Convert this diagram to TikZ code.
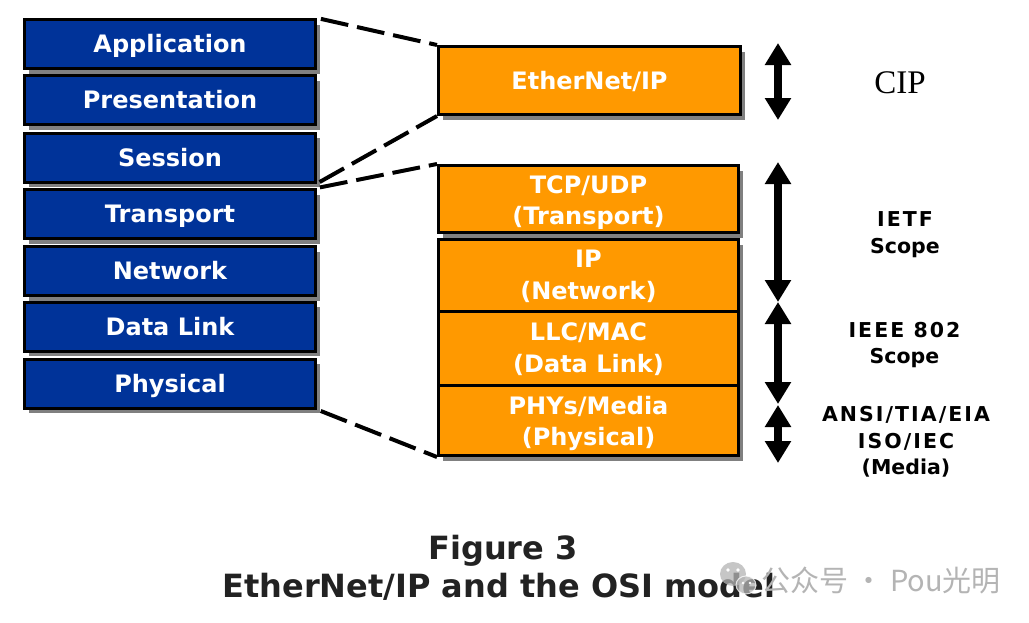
\documentclass[tikz,border=0pt]{standalone}
\usepackage{fontspec}
\usetikzlibrary{arrows.meta,shadows}
\newfontfamily\dvs{DejaVu Sans}
\newfontfamily\dvscaps{DejaVu Sans}[LetterSpace=10]
\newfontfamily\lserif{Liberation Serif}
\newfontfamily\cjk{Noto Sans CJK SC}
\newcommand\liftline[1]{\rule{0pt}{#1}}
\definecolor{osiblue}{RGB}{0,51,153}
\definecolor{ethorange}{RGB}{255,153,0}
\definecolor{shadowgray}{RGB}{128,128,128}
\definecolor{wmgray}{RGB}{180,180,180}
\definecolor{titlegray}{RGB}{34,34,34}
\begin{document}
\begin{tikzpicture}[x=1pt,y=-1pt,
  boxshadow/.style={drop shadow={shadow xshift=4pt,shadow yshift=-5pt,fill=shadowgray,opacity=1}},
  osibox/.style={draw=black,line width=3pt,fill=osiblue,minimum width=291pt,minimum height=49pt,
    inner sep=0pt,text=white,font=\dvs\bfseries\fontsize{24}{29}\selectfont,
    text height=17.5pt,text depth=0pt,boxshadow},
  ethbox/.style={draw=black,line width=3pt,fill=ethorange,minimum width=300pt,inner sep=0pt,
    text=white,align=center,font=\dvs\bfseries\fontsize{24}{31.5}\selectfont,boxshadow},
  dashlink/.style={line width=4pt,dash pattern=on 28pt off 9pt},
  dblarrow/.style={line width=7.5pt,{Triangle[width=25pt,length=22pt]}-{Triangle[width=25pt,length=22pt]}},
  scopelbl/.style={align=center,inner sep=0pt,text=black,font=\dvs\bfseries\fontsize{20.5}{27}\selectfont},
  titletext/.style={inner sep=0pt,text=titlegray,font=\dvs\bfseries\fontsize{32}{38}\selectfont,
    text height=23.3pt,text depth=0pt}
]
\useasboundingbox[fill=white] (0,0) rectangle (1029,622);

% OSI stack
\node[osibox] (app)  at (170,44)    {Application};
\node[osibox] (pres) at (170,100)   {Presentation};
\node[osibox] (sess) at (170,157.5) {Session};
\node[osibox] (trans) at (170,214)  {Transport};
\node[osibox] (net)  at (170,271)   {Network};
\node[osibox] (dll)  at (170,326.5) {Data Link};
\node[osibox] (phy)  at (170,383.5) {Physical};

% EtherNet/IP stack
\node[ethbox,minimum width=302pt,minimum height=68pt,text height=17.5pt,text depth=0pt] (eip) at (589.5,80.5) {EtherNet/IP};
\node[ethbox,minimum height=67pt]   (tcp)  at (588.5,199)    {\liftline{25pt}TCP/UDP\\(Transport)};
\node[ethbox,minimum height=71.5pt] (ip)   at (588.5,275.25) {\liftline{20pt}IP\\(Network)};
\node[ethbox,minimum height=74pt]   (llc)  at (588.5,348)    {\liftline{20pt}LLC/MAC\\(Data Link)};
\node[ethbox,minimum height=70.5pt] (phys) at (588.5,420.25) {\liftline{25pt}PHYs/Media\\(Physical)};

% dashed mapping lines
\draw[dashlink,shorten <=4pt] (app.north east) -- (eip.north west);
\draw[dashlink,shorten <=3pt] (sess.south east) -- (eip.south west);
\draw[dashlink,shorten <=3pt] (trans.north east) -- (tcp.north west);
\draw[dashlink,shorten <=4pt] (phy.south east) -- (phys.south west);

% scope arrows
\coordinate (cipT) at (778,43);
\coordinate (cipB) at (778,120);
\coordinate (ietfT) at (778,162);
\coordinate (ietfB) at (778,302);
\coordinate (ieeeT) at (778,302);
\coordinate (ieeeB) at (778,404);
\coordinate (ansiT) at (778,405);
\coordinate (ansiB) at (778,463);
\draw[dblarrow] (cipT) -- (cipB);
\draw[dblarrow] (ietfT) -- (ietfB);
\draw[dblarrow] (ieeeT) -- (ieeeB);
\draw[dblarrow] (ansiT) -- (ansiB);

% scope labels
\node[inner sep=0pt,font=\lserif\fontsize{33}{33}\selectfont,text height=21.5pt,text depth=0pt] (cip) at (900,82.5) {CIP};
\node[scopelbl] (ietf) at (905,234.5) {{\dvscaps IETF}\\Scope};
\node[scopelbl,font=\dvs\bfseries\fontsize{20.5}{26}\selectfont] (ieee) at (904.5,345) {{\dvscaps IEEE 802}\\Scope};
\node[scopelbl,font=\dvs\bfseries\fontsize{20.5}{26.5}\selectfont] (ansi) at (906,442) {{\dvscaps ANSI/TIA/EIA}\\{\dvscaps ISO/IEC}\\(Media)};

% caption
\node[titletext] (fig) at (503,548.3) {Figure 3};
\node[titletext] (cap) at (499,586.3) {EtherNet/IP and the OSI model};

% watermark
\fill[wmgray,opacity=0.75] (733,574) ellipse [x radius=13pt,y radius=12pt];
\fill[wmgray,opacity=0.75,draw=white,line width=1pt] (746,585) ellipse [x radius=10pt,y radius=9pt];
\fill[white] (728,570) circle [radius=1.8pt] (738,570) circle [radius=1.8pt];
\fill[white] (743,583) circle [radius=1.3pt] (750,583) circle [radius=1.3pt];
\node[anchor=west,inner sep=0pt,text=wmgray,font=\cjk\fontsize{29}{29}\selectfont] (wm) at (761,580) {公众号 · Pou光明};
\end{tikzpicture}
\end{document}
